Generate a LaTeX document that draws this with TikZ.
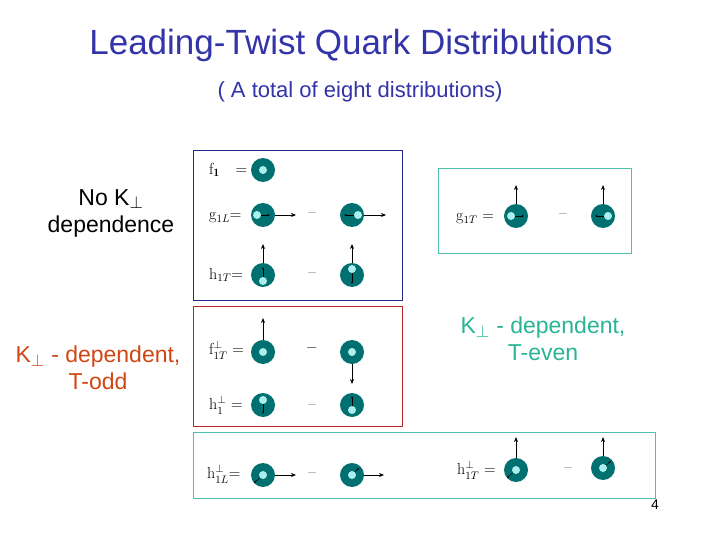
\documentclass[tikz,border=0pt]{standalone}
\usepackage{fontspec}
\setsansfont{Liberation Sans}
\usetikzlibrary{arrows.meta}
\definecolor{ttl}{RGB}{51,51,170}
\definecolor{teal1}{RGB}{0,112,112}
\definecolor{cy}{RGB}{170,238,238}
\definecolor{bbox}{RGB}{40,40,140}
\definecolor{rbox}{RGB}{190,40,40}
\definecolor{tbox}{RGB}{80,190,170}
\definecolor{orng}{RGB}{210,70,20}
\definecolor{tealtxt}{RGB}{40,180,150}
\tikzset{
 quark/.style={circle,fill=teal1,minimum size=24pt,inner sep=0pt},
 dot/.style={circle,fill=cy,minimum size=8pt,inner sep=0pt},
 spin/.style={-{Stealth[length=5pt,width=4pt]},line width=0.9pt},
 small/.style={-{Stealth[length=2.5pt,width=2pt]},line width=0.5pt},
 lab/.style={font=\rmfamily\fontsize{16}{18}\selectfont,anchor=west,inner sep=0pt},
 mn/.style={font=\rmfamily\fontsize{16}{16}\selectfont},
 frame/.style={line width=0.8pt},
 side/.style={font=\sffamily\fontsize{23}{27}\selectfont,align=center}
}
\begin{document}
\begin{tikzpicture}[x=1pt,y=-1pt]
\useasboundingbox (0,0) rectangle (720,540);
\fill[white] (0,0) rectangle (720,540);
\node[font=\sffamily\fontsize{35}{40}\selectfont,text=ttl] (title) at (351,45) {Leading-Twist Quark Distributions};
\node[font=\sffamily\fontsize{22}{26}\selectfont,text=ttl] (sub) at (360,92) {( A total of eight distributions)};
\node[side] (nok) at (111,213) {No K$_\perp$\\dependence};
\node[side,text=orng] (todd) at (98,368) {K$_\perp$ - dependent,\\T-odd};
\node[side,text=tealtxt] (teven) at (543,339) {K$_\perp$ - dependent,\\T-even};
\node[font=\sffamily\fontsize{14}{16}\selectfont] (pg) at (655,505) {4};
\draw[frame,bbox] (193,150) rectangle (402,300);
\draw[frame,rbox] (193,306) rectangle (402,426);
\draw[frame,tbox] (438,168) rectangle (631,253);
\draw[frame,tbox] (193,432) rectangle (655,498);
% f1
\node[lab] (lf1) at (209,170) {f$_{\mathbf 1}$\quad =};
\node[quark] (q1) at (263,170) {}; \node[dot] (d1) at (q1) {};
% g1L
\node[lab] (lg1l) at (209,218) {g$_{1L}$=};
\node[quark] (q2) at (263,215) {}; \node[dot] (d2) at (257,215) {};
\draw[small] (d2) -- (270,215); \draw[spin] (q2.east) -- (296,215);
\node[mn] (m2) at (312,215) {--};
\node[quark] (q3) at (352,215) {}; \node[dot] (d3) at (358,215) {};
\draw[small] (d3) -- (344,215); \draw[spin] (q3.east) -- (386,215);
% h1T
\node[lab] (lh1t) at (209,275) {h$_{1T}$=};
\node[quark] (q4) at (263,275) {}; \node[dot] (d4) at (263,281) {};
\draw[small] (d4) -- (263,267); \draw[spin] (q4.north) -- (263,244);
\node[mn] (m4) at (312,275) {--};
\node[quark] (q5) at (352,275) {}; \node[dot] (d5) at (352,269) {};
\draw[small] (d5) -- (352,284); \draw[spin] (q5.north) -- (352,244);
% g1T
\node[lab] (lg1t) at (456,219) {g$_{1T}$ =};
\node[quark] (q6) at (516,216) {}; \node[dot] (d6) at (511,216) {};
\draw[small] (d6) -- (524,216); \draw[spin] (q6.north) -- (516,185);
\node[mn] (m6) at (563,216) {--};
\node[quark] (q7) at (603,216) {}; \node[dot] (d7) at (608,216) {};
\draw[small] (d7) -- (595,216); \draw[spin] (q7.north) -- (603,185);
% f1T perp
\node[lab] (lf1t) at (209,350) {f$^{\perp}_{1T}$ =};
\node[quark] (q8) at (263,352) {}; \node[dot] (d8) at (q8) {};
\draw[spin] (q8.north) -- (263,318);
\node[mn] (m8) at (312,350) {\textbf{--}};
\node[quark] (q9) at (352,352) {}; \node[dot] (d9) at (q9) {};
\draw[spin] (q9.south) -- (352,384);
% h1 perp
\node[lab] (lh1) at (209,405) {h$^{\perp}_{1}$ =};
\node[quark] (q10) at (263,405) {}; \node[dot] (d10) at (263,400) {};
\draw[small] (d10) -- (263,414);
\node[mn] (m10) at (312,407) {--};
\node[quark] (q11) at (352,405) {}; \node[dot] (d11) at (352,410) {};
\draw[small] (d11) -- (352,396);
% h1L perp
\node[lab] (lh1l) at (207,474) {h$^{\perp}_{1L}$=};
\node[quark] (q12) at (263,475) {}; \node[dot] (d12) at (q12) {};
\draw[small] (d12) -- (254,483); \draw[spin] (q12.east) -- (296,475);
\node[mn] (m12) at (312,475) {--};
\node[quark] (q13) at (352,475) {}; \node[dot] (d13) at (q13) {};
\draw[small] (d13) -- (359,468); \draw[spin] (q13.east) -- (384,475);
% h1T perp
\node[lab] (lh1tp) at (457,470) {h$^{\perp}_{1T}$ =};
\node[quark] (q14) at (516,470) {}; \node[dot] (d14) at (q14) {};
\draw[small] (d14) -- (507,478); \draw[spin] (q14.north) -- (516,437);
\node[mn] (m14) at (568,470) {--};
\node[quark] (q15) at (603,468) {}; \node[dot] (d15) at (q15) {};
\draw[small] (d15) -- (611,461); \draw[spin] (q15.north) -- (603,437);
\end{tikzpicture}
\end{document}
